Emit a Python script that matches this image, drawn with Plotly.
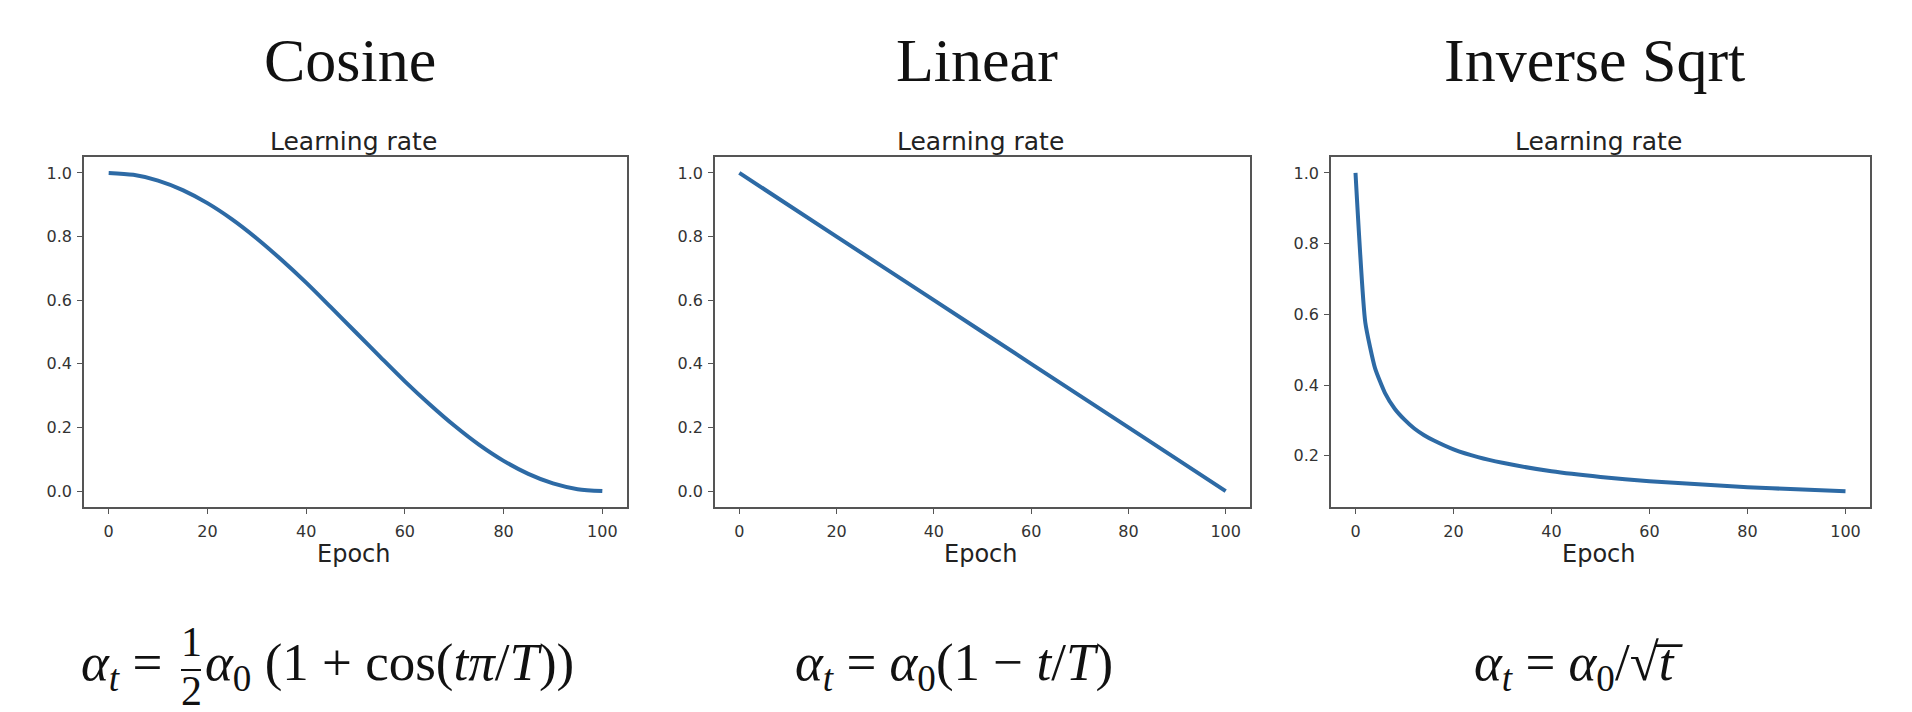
import plotly.graph_objects as go

W, H = 1912, 712

# schedule values
cos_epoch = [0, 5, 10, 15, 20, 25, 30, 35, 40, 45, 50, 55, 60, 65, 70, 75, 80, 85, 90, 95, 100]
cos_lr = [1.0, 0.994, 0.976, 0.946, 0.905, 0.854, 0.794, 0.727, 0.655, 0.578, 0.50,
          0.422, 0.345, 0.273, 0.206, 0.146, 0.095, 0.054, 0.024, 0.006, 0.0]

lin_epoch = [0, 20, 40, 60, 80, 100]
lin_lr = [1.0, 0.8, 0.6, 0.4, 0.2, 0.0]

isq_epoch = [0, 2, 4, 6, 8, 10, 12, 14, 16, 20, 25, 30, 40, 50, 60, 70, 80, 90, 100]
isq_lr = [1.0, 0.577, 0.447, 0.378, 0.333, 0.302, 0.277, 0.258, 0.243, 0.218, 0.196,
          0.180, 0.156, 0.140, 0.128, 0.119, 0.111, 0.105, 0.0995]

titles = ["Cosine", "Linear", "Inverse Sqrt"]
x_ticks = [0, 20, 40, 60, 80, 100]
y_ticks = [[0.0, 0.2, 0.4, 0.6, 0.8, 1.0], [0.0, 0.2, 0.4, 0.6, 0.8, 1.0], [0.2, 0.4, 0.6, 0.8, 1.0]]
y_ranges = [[-0.05, 1.05], [-0.05, 1.05], [0.055, 1.045]]

LINE = "#2d6aa5"
SANS = "DejaVu Sans"
SERIF = "Liberation Serif, DejaVu Serif, serif"

# panel frames in pixels (left, right)
panels = [(76, 619), (707, 1242), (1323, 1862)]
top_px, bot_px = 149, 499
smooth = [0.8, 0.8, 0.5]


def px(v):
    return v / W


def py(v):
    return 1 - v / H


fig = go.Figure()
series = [(cos_epoch, cos_lr), (lin_epoch, lin_lr), (isq_epoch, isq_lr)]
for i, (xs, ys) in enumerate(series):
    n = "" if i == 0 else str(i + 1)
    fig.add_trace(go.Scatter(x=xs, y=ys, mode="lines", xaxis="x" + n, yaxis="y" + n,
                             line=dict(color=LINE, width=4, shape="spline", smoothing=smooth[i]),
                             showlegend=False, hoverinfo="skip"))
    l, r = panels[i]
    axis_common = dict(showline=True, mirror=True, linecolor="#555555", linewidth=1.5,
                       showgrid=False, zeroline=False, ticks="outside", ticklen=5,
                       tickwidth=1, tickcolor="#555555",
                       tickfont=dict(family=SANS, size=16, color="#333333"))
    fig.update_layout({
        "xaxis" + n: dict(domain=[px(l), px(r)], range=[-5, 105], tickvals=x_ticks,
                          anchor="y" + n, ticklabelstandoff=4, **axis_common),
        "yaxis" + n: dict(domain=[py(bot_px), py(top_px)], range=y_ranges[i],
                          tickvals=y_ticks[i], tickformat=".1f", anchor="x" + n,
                          ticklabelstandoff=2, **axis_common),
    })
    cx = (l + r) / 2
    fig.add_annotation(text=titles[i], x=px(cx - 6), y=py(52), xref="paper", yref="paper",
                       showarrow=False, xanchor="center", yanchor="middle",
                       font=dict(family=SERIF, size=62, color="#111111"))
    fig.add_annotation(text="Learning rate", x=px(cx - 2), y=py(133), xref="paper", yref="paper",
                       showarrow=False, xanchor="center", yanchor="middle",
                       font=dict(family=SANS, size=25, color="#222222"))
    fig.add_annotation(text="Epoch", x=px(cx - 2), y=py(546), xref="paper", yref="paper",
                       showarrow=False, xanchor="center", yanchor="middle",
                       font=dict(family=SANS, size=24, color="#222222"))

# formulas under each panel
ff = dict(family=SERIF, size=53, color="#111111")
frac = dict(family=SERIF, size=42, color="#111111")
fig.add_annotation(text="<i>α</i><sub><i>t</i></sub> = ", x=px(170), y=py(658),
                   xref="paper", yref="paper", showarrow=False, xanchor="right",
                   yanchor="middle", font=ff)
fig.add_annotation(text="1", x=px(183), y=py(634), xref="paper", yref="paper",
                   showarrow=False, xanchor="center", yanchor="middle", font=frac)
fig.add_annotation(text="2", x=px(183), y=py(683), xref="paper", yref="paper",
                   showarrow=False, xanchor="center", yanchor="middle", font=frac)
fig.add_shape(type="line", xref="paper", yref="paper", x0=px(173), x1=px(193),
              y0=py(662), y1=py(662), line=dict(color="#111111", width=2))
fig.add_annotation(text="<i>α</i><sub>0</sub> (1 + cos(<i>tπ</i>/<i>T</i>))", x=px(195),
                   y=py(658), xref="paper", yref="paper", showarrow=False,
                   xanchor="left", yanchor="middle", font=ff)
fig.add_annotation(text="<i>α</i><sub><i>t</i></sub> = <i>α</i><sub>0</sub>(1 − <i>t</i>/<i>T</i>)",
                   x=px(946), y=py(658), xref="paper", yref="paper", showarrow=False,
                   xanchor="center", yanchor="middle", font=ff)
fig.add_annotation(text="<i>α</i><sub><i>t</i></sub> = <i>α</i><sub>0</sub>/√<i>t\u0305</i>",
                   x=px(1570), y=py(658), xref="paper", yref="paper", showarrow=False,
                   xanchor="center", yanchor="middle", font=ff)

fig.update_layout(width=W, height=H, margin=dict(l=0, r=0, t=0, b=0),
                  paper_bgcolor="white", plot_bgcolor="white")

fig.write_html("out.html")
